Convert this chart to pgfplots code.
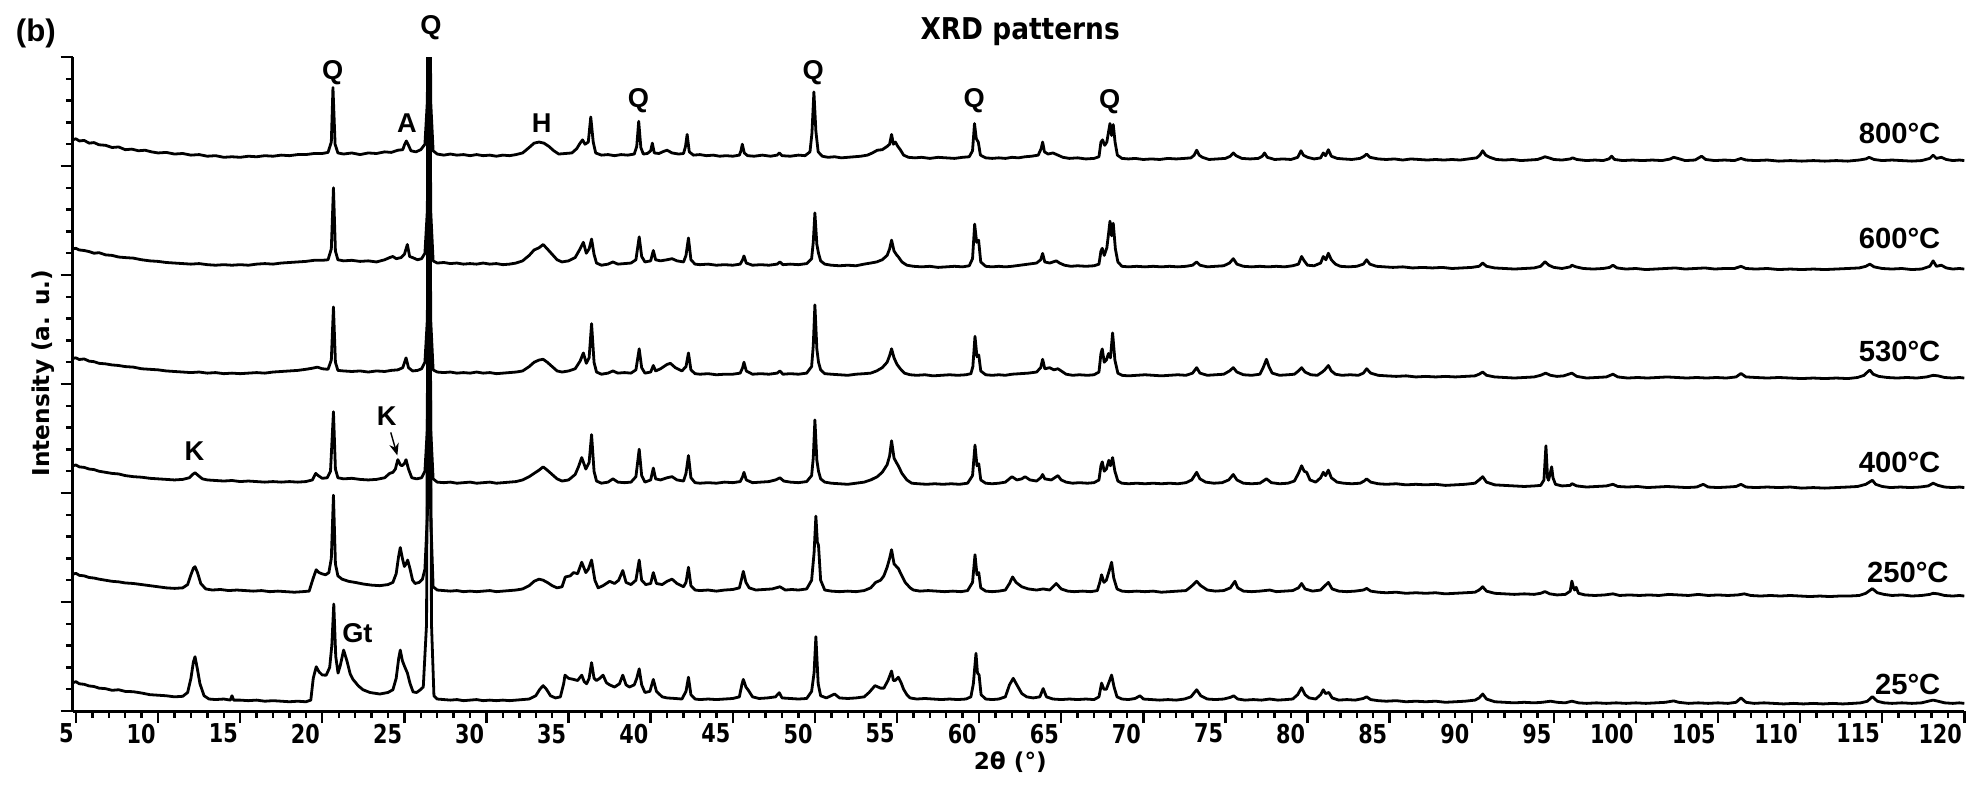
\documentclass[border=0pt]{standalone}
\usepackage{fontspec}
\setmainfont{Liberation Sans}
\newfontfamily\dvs{DejaVu Sans}
\usepackage{graphicx}
\usepackage{pgfplots}
\usepackage{pgfplotstable}
\usetikzlibrary{arrows.meta}
\pgfplotsset{compat=1.18}

% local intensities of each pattern (the stacking offset is added when plotting)
\pgfplotstableread{
x I
4.8 24
5.0 25
5.2 23
5.5 23.5
5.8 21
6.1 21.5
6.4 19.5
6.8 19
7.2 17
7.6 17.5
8.0 15
8.4 15.5
8.8 14
9.2 14.5
9.6 13
10.0 12
10.5 12.5
11.0 11
11.5 11.5
12.0 10
12.5 10.5
13.0 9
13.5 9.5
14.0 8
14.5 8.5
15.0 8
15.5 9
16.0 8.5
16.5 9.5
17.0 9
17.5 10
18.0 9.5
18.5 10.5
19.0 10.5
19.5 11.5
20.0 11.5
20.35 12.5
20.55 22
20.65 72
20.78 20
20.95 12
21.3 11
21.8 12
22.3 10.5
22.8 12
23.3 11.5
23.8 13
24.2 12.5
24.6 14.5
24.9 15
25.02 20
25.12 23
25.25 19
25.4 14
25.7 13
26.0 15
26.25 20
26.4 60
26.5 700
26.6 60
26.75 14
27.0 11
27.4 10
27.8 11
28.2 10
28.6 10.5
29.0 9.5
29.4 10.5
29.8 9.5
30.2 10
30.6 9
31.0 10
31.4 9.5
31.8 10.5
32.2 12
32.6 17
32.9 21
33.2 22
33.5 21
33.8 18
34.1 14
34.4 11
34.8 11.5
35.2 12
35.5 16
35.7 21
35.85 24
36.0 20
36.2 22
36.35 45
36.5 22
36.65 12
37.0 10
37.4 10.5
37.8 9.5
38.2 10.5
38.6 10
39.0 11
39.15 18
39.27 41
39.4 17
39.55 11
39.8 11.5
40.0 14
40.1 21
40.22 12
40.5 11.5
40.8 13.5
41.0 14.5
41.3 12
41.7 11
42.0 11.5
42.12 18
42.22 29
42.35 13
42.6 10
43.0 10.5
43.4 9.5
43.8 10
44.2 9
44.6 9.5
45.0 9
45.4 10
45.5 14
45.58 20
45.7 12
45.9 9.5
46.3 9
46.8 10
47.3 9
47.7 10
47.83 12
48.0 9.5
48.5 9
49.0 10
49.4 9.5
49.7 13
49.82 30
49.94 68
50.06 32
50.2 13
50.45 9
50.8 8
51.2 8.5
51.6 7.5
52.0 8
52.4 8.5
52.8 9
53.2 10
53.5 12
53.8 14.5
54.1 15
54.4 18
54.55 20
54.67 29
54.78 20
54.9 22
55.05 18
55.2 15
55.4 10
55.7 8
56.1 7.5
56.5 8
57.0 7
57.5 8
58.0 7.5
58.5 7
59.0 8
59.4 8.5
59.6 14
59.72 39
59.83 25
59.95 22
60.08 10
60.4 7.5
60.8 7
61.2 7.5
61.6 7
62.0 8
62.4 7.5
62.8 8.5
63.2 9
63.6 10
63.78 16
63.87 22
63.98 13
64.2 11
64.5 12
64.8 10
65.1 8
65.5 7
66.0 7.5
66.5 6.5
67.0 7
67.3 8.5
67.42 22
67.52 24
67.65 19
67.78 22
67.88 31
67.97 39
68.07 28
68.17 38
68.28 22
68.42 10
68.7 7
69.1 6.5
69.5 7
70.0 6
70.5 6.5
71.0 6
71.5 7
72.0 6.5
72.5 7
72.9 7.5
73.1 10
73.25 14.5
73.4 10
73.6 8
74.0 6
74.5 6.5
75.0 7
75.3 9
75.48 12
75.65 9.5
76.0 7
76.5 6.5
77.0 7
77.25 9
77.38 12
77.55 8
78.0 6
78.5 6.5
79.0 6
79.4 8
79.6 14
79.75 10
80.0 8
80.4 6.5
80.8 7.5
80.96 12
81.1 9.5
81.27 15
81.45 9
81.8 7
82.2 6.5
82.7 6
83.2 7
83.45 9
83.6 11
83.8 8
84.3 6.5
84.8 6
85.3 6.5
85.8 5.5
86.3 6.5
86.8 6
87.3 5.5
87.8 6
88.3 5.5
88.8 6
89.3 5.5
89.8 6.5
90.3 7.5
90.5 10
90.67 14
90.85 10
91.1 8
91.5 6
92.0 5.5
92.5 6
93.0 5
93.5 5.5
94.0 6
94.3 7.5
94.46 8.5
94.7 7.5
95.0 6
95.5 5.5
96.0 6.5
96.15 7.5
96.4 6
97.0 5
97.5 5.5
98.0 5
98.35 6.5
98.52 9
98.7 6
99.2 5
99.8 5.5
100.4 5
101.0 5.5
101.6 5
102.1 6.5
102.3 8
102.55 7
103.0 5
103.6 5.5
104.0 9
104.25 6
104.8 5
105.4 5.5
106.0 5
106.4 7
106.7 5.5
107.3 5
108.0 5.5
108.7 4.5
109.4 5
110.1 4.5
110.8 5
111.5 4.5
112.2 5
112.9 4.5
113.6 5.5
114.0 6.5
114.2 8
114.5 6
115.0 5
115.6 5.5
116.2 5
116.8 4.5
117.4 5
117.9 7
118.1 10
118.3 7
118.6 8
118.9 6
119.3 5
119.7 5.5
120.0 5
}\patEight

\pgfplotstableread{
x I
4.8 24
5.0 24.5
5.2 23
5.5 22.5
5.8 21.5
6.1 20
6.4 20.5
6.8 18.5
7.2 18
7.6 16.5
8.0 16
8.5 15.5
9.0 14
9.5 13
10.0 12.5
10.5 11.5
11.0 11
11.5 10.5
12.0 10
12.5 10.5
13.0 9.5
13.5 9
14.0 9.5
14.5 9
15.0 9.5
15.5 9
16.0 10
16.5 10.5
17.0 10
17.5 11
18.0 11.5
18.5 12
19.0 12.5
19.5 13.5
20.0 13.5
20.35 14
20.55 24
20.68 80
20.8 22
20.95 14
21.3 13
21.8 13.5
22.3 12.5
22.8 13
23.3 12
23.8 14
24.1 16
24.3 17
24.5 15
24.8 16
25.0 19
25.18 28
25.32 17
25.5 16
25.8 14
26.05 15
26.25 20
26.4 60
26.5 700
26.6 60
26.75 13
27.0 11
27.4 11.5
27.8 10.5
28.2 11
28.6 10
29.0 10.5
29.4 10
29.8 11
30.2 10
30.6 10.5
31.0 9.5
31.4 10
31.8 11
32.2 13
32.6 18
32.9 23
33.2 25
33.45 28
33.7 24
34.0 19
34.3 14
34.6 12
35.0 13
35.4 16
35.7 24
35.9 30
36.08 20
36.25 24
36.4 33
36.55 19
36.7 11
37.0 9
37.4 10
37.7 12
38.0 10
38.4 10.5
38.8 11
39.1 14
39.3 35
39.45 17
39.65 12
40.0 13
40.16 22.5
40.3 14
40.6 13
41.0 14
41.3 15
41.6 13
42.0 12
42.15 18
42.3 34
42.45 14
42.7 10
43.0 9.5
43.5 10
44.0 9
44.5 9.5
45.0 9
45.45 10
45.6 14
45.68 17.5
45.82 11
46.2 9
46.7 9.5
47.2 9
47.7 10
47.87 12
48.05 9.5
48.5 10
49.0 9.5
49.5 10.5
49.8 15
49.9 30
50.0 57
50.12 28
50.22 20
50.35 13
50.6 10
51.0 9
51.5 8.5
52.0 9
52.5 8.5
53.0 10
53.4 11
53.76 12
54.1 14
54.4 18
54.55 24
54.67 32
54.82 22
55.0 18
55.08 16.7
55.3 12
55.6 9
56.0 8
56.5 7.5
57.0 8
57.5 7
58.0 7.5
58.5 8
59.0 7.5
59.4 8.5
59.6 15
59.73 46.7
59.85 30
59.97 32
60.1 12
60.4 8
60.8 7.5
61.2 8
61.6 7.5
62.0 8
62.5 9
63.0 10
63.5 11
63.75 14
63.87 19.8
64.0 12
64.3 11
64.5 12
64.7 13
64.9 11
65.2 9
65.6 8
66.0 8.5
66.5 8
67.0 8.5
67.3 10
67.42 22
67.5 24.5
67.62 18
67.78 25
67.9 40
67.97 49.4
68.07 36
68.17 47.5
68.3 24
68.45 12
68.7 8
69.1 7.5
69.6 8
70.1 7.5
70.6 8
71.1 7.5
71.6 8
72.1 7.5
72.6 8
73.0 9
73.25 12
73.45 9
73.9 7.5
74.4 8
74.9 8.5
75.25 11
75.48 15
75.7 10
76.1 8
76.6 7.5
77.1 8
77.6 7.5
78.1 8
78.6 7.5
79.1 8.5
79.45 10
79.64 17
79.8 13
80.0 9
80.4 8.5
80.8 11
80.96 17
81.12 14
81.27 20
81.45 14
81.7 10
82.0 8
82.5 7.5
83.0 8
83.4 10
83.6 14
83.8 10
84.2 8
84.7 7.5
85.2 7
85.8 7.5
86.4 6.5
87.0 7
87.6 6.5
88.2 7
88.8 6
89.4 6.5
90.0 7
90.45 8
90.67 11
90.9 8
91.4 6.5
92.0 6
92.6 5.5
93.2 6
93.8 6.5
94.2 8
94.46 12.2
94.7 9
95.0 7
95.5 6
96.0 7.5
96.1 9
96.35 7.5
96.8 6
97.4 5.5
98.0 6
98.4 7
98.6 9
98.85 6.5
99.4 5.5
100.0 6
100.6 5
101.2 5.5
101.8 6
102.4 6.5
103.0 5.5
103.6 6
104.2 6.5
104.8 5.5
105.4 6
106.0 6
106.4 8
106.7 6
107.3 5.5
108.0 6
108.7 5
109.4 5.5
110.1 5
110.8 5.5
111.5 5
112.2 5.5
112.9 6
113.6 6.5
114.0 8
114.25 10
114.5 7.5
115.0 6
115.6 5.5
116.2 6
116.8 5
117.4 5.5
117.9 8
118.1 13
118.3 8
118.6 9
118.9 6.5
119.3 5.5
119.7 6
120.0 5.5
}\patSix

\pgfplotstableread{
x I
4.8 23.5
5.0 24
5.2 22.5
5.5 23
5.8 21
6.1 20.5
6.4 19
6.8 18.5
7.2 17.5
7.6 17
8.0 16
8.5 15.5
9.0 14
9.5 13.5
10.0 13
10.5 12
11.0 11.5
11.5 11
12.0 10.5
12.5 11
13.0 10
13.5 10.5
14.0 9.5
14.5 10
15.0 9.5
15.5 10
16.0 10.5
16.5 10
17.0 11
17.5 11.5
18.0 12
18.5 12.5
19.0 13.5
19.4 14.5
19.7 15.5
20.0 14
20.35 13.5
20.55 22
20.68 70.7
20.8 20
20.95 12.5
21.3 12
21.8 11.5
22.3 12
22.8 11
23.3 12
23.8 11.5
24.2 12.5
24.6 13
24.9 15
25.1 24
25.25 15
25.5 12
25.8 12.5
26.05 14
26.25 20
26.4 60
26.5 700
26.6 60
26.75 13
27.0 11
27.4 10.5
27.8 11
28.2 10
28.6 10.5
29.0 10
29.4 11
29.8 10
30.2 10.5
30.6 9.5
31.0 10
31.4 10.5
31.8 11
32.2 12
32.6 16
32.9 20
33.2 22
33.45 22.7
33.7 20
34.0 16
34.3 12
34.6 11
35.0 12
35.4 14
35.7 21
35.9 28.5
36.08 19
36.25 24
36.4 55.4
36.55 20
36.7 11
37.0 9
37.4 10
37.7 12
38.0 10
38.4 10.5
38.8 10
39.1 13
39.3 32.3
39.45 15
39.65 10
40.0 11
40.16 17
40.3 12
40.6 14
41.0 18
41.2 19
41.5 15
41.9 12
42.15 16
42.3 28.5
42.45 13
42.7 9.5
43.0 9
43.5 9.5
44.0 8.5
44.5 9
45.0 9
45.45 10
45.6 15
45.68 20
45.82 12
46.2 9
46.7 9.5
47.2 9
47.7 10
47.87 12
48.05 9
48.5 9.5
49.0 9
49.5 10
49.8 16
49.9 35
50.0 72.6
50.12 32
50.22 20
50.35 13
50.6 9.5
51.0 9
51.5 8.5
52.0 8
52.5 9
53.0 9.5
53.4 10
53.76 12
54.1 15
54.4 20
54.55 26
54.67 32.3
54.82 24
55.0 18
55.2 14
55.45 10
55.8 8.5
56.2 8
56.7 8.5
57.2 7.5
57.7 8
58.2 8.5
58.7 8
59.2 8.5
59.5 9.5
59.62 16
59.75 43.8
59.87 25
59.98 26.6
60.1 12
60.4 8.5
60.8 8
61.2 8.5
61.6 8
62.0 9
62.5 9.5
63.0 10
63.5 11
63.75 15
63.87 22.7
64.0 14
64.3 15
64.55 13
64.8 14
65.0 12
65.3 9
65.7 8
66.1 8.5
66.6 8
67.0 8.5
67.3 11
67.42 28
67.5 32.2
67.62 20
67.75 22
67.88 28
68.0 24
68.13 46.9
68.27 22
68.45 10
68.7 8
69.1 7.5
69.6 8
70.1 8.5
70.6 8
71.1 7.5
71.6 8
72.1 8.5
72.6 8
73.0 10
73.25 15
73.45 10
73.9 8
74.4 8.5
74.9 9
75.25 12
75.48 15
75.7 11
76.1 8.5
76.6 8
77.1 9
77.3 15
77.5 22.7
77.65 16
77.85 10
78.3 8
78.8 8.5
79.2 9
79.45 12
79.64 15
79.85 11
80.2 8.5
80.6 8
80.9 11
81.05 13
81.27 17
81.45 12
81.7 9
82.1 8
82.6 8.5
83.1 8
83.4 10
83.6 14
83.85 10
84.3 8
84.8 7.5
85.4 7
86.0 7.5
86.6 6.5
87.2 7
87.8 6.5
88.4 7
89.0 6.5
89.6 7
90.2 7.5
90.45 9
90.67 11
90.9 8
91.4 6.5
92.0 6
92.6 5.5
93.2 6
93.8 6.5
94.2 8
94.5 10
94.8 8
95.2 7
95.6 7.5
96.1 10
96.4 7
97.0 5.5
97.6 6
98.2 6.5
98.6 9
98.9 6.5
99.5 5.5
100.1 6
100.7 5.5
101.3 6
101.9 6.5
102.5 6
103.1 5.5
103.7 6
104.3 5.5
104.9 6
105.5 5.5
106.1 6.5
106.4 9.7
106.7 6.5
107.3 6
108.0 5.5
108.7 6
109.4 5.5
110.1 5
110.8 5.5
111.5 5
112.2 5.5
112.9 5
113.5 6
113.9 8
114.1 11
114.25 12.8
114.45 9
114.8 7
115.3 6
115.9 5.5
116.5 6
117.1 5.5
117.7 6.5
118.1 8
118.4 7.5
118.8 6
119.3 5.5
119.7 6
120.0 5.5
}\patFiveThirty

\pgfplotstableread{
x I
4.8 25
5.0 25.7
5.2 24
5.5 23.5
5.8 22
6.1 21.5
6.4 20
6.8 19
7.2 18
7.6 17.5
8.0 16
8.5 15
9.0 14.5
9.5 13.5
10.0 13
10.5 12.5
11.0 12
11.5 12.5
11.9 14
12.1 17
12.25 18.6
12.45 16
12.7 13
13.0 12
13.5 11.5
14.0 11
14.5 11.5
15.0 10.5
15.5 11
16.0 10.5
16.5 10
17.0 10.5
17.5 10
18.0 10.5
18.5 10
19.0 10.5
19.4 12
19.6 18
19.75 16
20.0 13.5
20.3 14
20.5 20
20.68 74.6
20.8 22
20.95 14
21.3 13
21.8 13.5
22.3 12.5
22.8 12
23.3 12.5
23.8 14
24.1 18
24.3 19
24.45 22
24.6 30.6
24.75 26
24.85 25
25.0 27
25.1 30.6
25.25 22
25.45 14
25.75 13
26.05 14
26.25 20
26.4 60
26.5 700
26.6 60
26.75 13
27.0 10
27.4 9.5
27.8 10
28.2 9
28.6 9.5
29.0 10
29.4 9
29.8 9.5
30.2 10
30.6 9
31.0 9.5
31.4 10
31.8 10.5
32.2 12
32.6 15
32.9 18
33.2 21
33.45 24
33.7 21
34.0 17
34.3 13
34.6 11
35.0 12
35.4 17
35.6 24
35.8 32.5
36.05 22
36.25 28
36.4 53.6
36.55 20
36.7 11
37.0 9
37.4 10
37.7 13
38.0 10
38.4 9.5
38.8 10
39.1 15
39.3 40.2
39.45 16
39.65 10
40.0 12
40.16 22.9
40.3 13
40.6 12
41.0 14
41.3 15
41.6 12
42.0 11
42.15 18
42.3 34.4
42.45 14
42.7 9.5
43.0 9
43.5 9.5
44.0 9
44.5 10
45.0 9.5
45.45 10.5
45.6 15
45.68 19
45.82 12
46.2 9.5
46.7 10
47.2 10.5
47.6 12
47.87 14
48.1 11
48.5 10
49.0 9.5
49.5 10.5
49.8 16
49.9 32
50.0 67
50.12 30
50.22 20
50.35 13
50.6 10
51.0 9
51.5 8.5
52.0 8
52.5 9
53.0 10
53.4 12
53.8 15
54.1 19
54.4 26
54.55 34
54.67 47.9
54.82 32
55.0 27
55.08 25
55.3 18
55.6 12
55.9 9
56.3 8.5
56.8 8
57.3 8.5
57.8 8
58.3 8.5
58.8 8
59.3 9
59.6 16
59.75 44
59.87 25
59.98 26.8
60.1 12
60.4 9
60.8 8.5
61.2 9
61.6 10
62.0 15
62.3 12
62.6 13
62.8 15
63.1 12
63.5 11
63.75 14
63.87 17
64.0 13
64.4 12
64.8 16
65.0 12
65.3 10
65.7 9
66.1 9.5
66.6 9
67.0 9.5
67.3 12
67.42 25
67.5 28.6
67.62 20
67.75 22
67.9 30
68.0 25
68.13 32.5
68.27 20
68.45 11
68.7 9
69.1 8.5
69.6 9
70.1 8.5
70.6 9
71.1 8.5
71.6 9
72.1 8.5
72.6 9.5
72.95 12
73.25 19
73.45 13
73.8 10
74.3 9
74.8 9.5
75.2 12
75.48 17
75.7 12
76.1 9
76.6 8.5
77.1 9
77.5 13
77.8 9.5
78.3 8.5
78.8 9
79.2 11
79.45 18
79.64 25
79.8 20
79.95 19
80.15 12
80.5 10
80.8 14
80.96 19
81.1 16
81.27 21
81.45 14
81.8 10
82.2 9
82.7 8.5
83.2 9
83.45 11
83.6 13
83.85 10
84.3 8.5
84.8 8
85.4 8.5
86.0 7.5
86.6 8
87.2 7.5
87.8 8
88.4 7
89.0 7.5
89.6 8
90.2 9
90.45 12
90.67 15
90.9 10
91.4 7.5
92.0 7
92.6 6.5
93.2 6
93.8 6.5
94.2 7
94.4 12
94.52 43.3
94.62 14
94.68 11.7
94.78 18
94.87 24
94.95 14
95.1 8
95.5 6.5
96.0 7
96.1 8.6
96.4 6.5
97.0 5.5
97.6 6
98.2 6.5
98.6 8
98.9 6
99.5 5.5
100.1 6
100.7 5
101.3 5.5
101.9 6
102.5 5.5
103.1 5
103.7 5.5
104.1 8
104.4 5.5
105.0 5
105.6 5.5
106.1 6
106.4 8
106.7 5.5
107.3 5
108.0 5.5
108.7 5
109.4 5.5
110.1 4.5
110.8 5
111.5 4.5
112.2 5
112.9 5.5
113.5 6
114.0 8
114.4 11.7
114.6 8
115.0 6
115.5 5
116.1 5.5
116.7 5
117.3 5.5
117.8 6.5
118.1 9
118.4 7
118.8 5.5
119.3 5
119.7 5.5
120.0 5
}\patFour

\pgfplotstableread{
x I
4.8 25.5
5.0 26.3
5.2 24.5
5.5 24
5.8 22.5
6.1 22
6.4 21
6.8 20
7.2 19
7.6 18.5
8.0 17.5
8.5 17
9.0 16
9.5 15
10.0 14
10.5 13
11.0 12.5
11.5 13
11.8 16
12.0 25
12.15 31
12.25 32.4
12.4 27
12.6 17
12.9 12
13.3 11
13.8 11.5
14.3 10.5
14.8 11
15.3 10.5
15.8 10
16.3 10.5
16.8 9.5
17.3 10
17.8 9.5
18.3 9
18.8 9.5
19.2 10
19.45 22
19.63 29.6
19.8 27
20.0 25.8
20.2 25
20.4 27
20.55 40
20.68 98
20.8 35
20.95 24
21.2 21
21.6 19
22.0 18
22.5 16.5
23.0 15.5
23.5 15
24.0 16
24.3 18
24.5 26
24.65 42
24.75 50
24.88 40
25.0 32.6
25.1 35
25.2 38.5
25.35 30
25.5 20
25.65 17
25.9 18
26.1 21
26.25 30
26.4 80
26.5 700
26.6 80
26.75 14
27.0 11
27.4 10.5
27.8 10
28.2 10.5
28.6 9.5
29.0 10
29.4 9.5
29.8 10
30.2 10.5
30.6 9.5
31.0 10
31.4 10.5
31.8 11
32.2 12
32.6 15
32.9 19
33.2 21
33.45 20
33.7 18
34.0 15
34.3 13
34.6 14
34.8 23
35.1 24
35.3 27
35.55 26
35.8 36.5
36.05 27
36.2 30
36.4 38.5
36.6 20
36.8 13
37.1 15
37.5 19
37.8 17
38.05 20
38.3 28.9
38.5 18
38.8 16
39.1 20
39.3 38.5
39.45 20
39.7 16
40.0 17
40.16 27
40.35 17
40.7 16
41.0 19
41.3 21
41.6 17
42.0 14
42.15 18
42.3 31.9
42.45 15
42.7 11
43.0 10.5
43.5 11
44.0 10
44.5 11
45.0 11.5
45.4 13
45.55 22
45.64 28.1
45.8 18
46.0 13
46.4 11
46.9 11.5
47.4 12
47.87 14
48.2 11
48.6 11.5
49.0 11
49.5 12
49.8 20
49.95 45
50.06 78.8
50.15 55
50.22 52
50.35 20
50.6 11
51.0 10
51.5 9.5
52.0 10
52.5 9.5
53.0 10.5
53.4 13
53.7 18
54.0 20
54.2 24
54.4 32
54.55 40
54.67 48
54.82 35
55.0 32
55.08 30.8
55.3 24
55.5 18
55.8 13
56.0 11
56.4 10
56.9 10.5
57.4 10
57.9 9.5
58.4 10
58.9 9.5
59.3 10.5
59.6 18
59.75 43.4
59.87 25
59.98 27
60.1 13
60.4 10
60.8 9.5
61.2 10
61.6 11
61.85 17
62.04 23
62.25 18
62.6 14
63.0 12
63.5 11
63.9 12
64.3 11
64.7 17
65.0 12
65.4 10
65.8 9.5
66.3 10
66.8 9.5
67.2 10.5
67.35 18
67.46 25
67.6 18
67.75 20
67.95 30
68.07 36.5
68.2 22
68.4 12
68.7 10
69.1 9.5
69.6 10
70.1 9.5
70.6 10
71.1 9
71.6 9.5
72.1 10
72.6 10.5
72.9 14
73.25 19
73.5 15
73.9 11
74.4 10
74.9 10.5
75.3 13
75.58 19
75.75 13
76.1 10
76.6 9.5
77.1 10
77.7 11
78.1 9.5
78.6 10
79.1 10.5
79.45 13
79.64 17
79.85 12
80.3 10
80.8 11
81.0 14
81.27 18
81.5 12
81.9 10
82.4 9.5
82.9 10
83.4 11
83.6 12.5
83.85 10
84.3 9
84.8 8.5
85.4 9
86.0 8
86.6 8.5
87.2 8
87.8 8.5
88.4 7.5
89.0 8
89.6 8.5
90.2 9
90.45 11
90.67 14
90.9 10
91.4 8
92.0 7.5
92.6 7
93.2 7.5
93.8 7
94.2 8
94.46 9.6
94.75 7.5
95.2 6.5
95.7 7
96.0 10
96.1 19.2
96.2 13
96.27 11
96.36 13.5
96.5 8
96.9 6.5
97.5 6
98.1 6.5
98.6 7.5
99.0 6
99.6 6.5
100.2 6
100.8 6.5
101.4 6
102.0 7
102.6 6.5
103.2 6
103.8 7
104.4 6
105.0 6.5
105.6 6
106.2 6.5
106.6 7.5
107.0 6
107.6 5.5
108.2 6
108.8 5.5
109.4 6
110.0 5.5
110.6 5
111.2 5.5
111.8 5
112.4 5.5
113.0 5.5
113.6 6
114.0 8
114.4 12.3
114.7 8.5
115.1 7
115.6 6
116.2 6.5
116.8 5.5
117.4 6
117.9 7
118.1 8
118.4 7.5
118.8 6
119.3 5.5
119.7 6
120.0 5.5
}\patTwoFifty

\pgfplotstableread{
x I
4.8 26
5.0 26.9
5.2 25
5.5 24.5
5.8 23
6.1 22.5
6.4 21
6.8 20.5
7.2 19
7.6 19.5
8.0 18
8.5 17.7
9.0 16.5
9.5 15
10.0 14.5
10.5 14
11.0 13
11.5 13.5
11.8 17
12.0 30
12.15 45
12.25 49.8
12.4 38
12.55 25
12.8 14
13.1 11
13.5 10.5
14.0 11
14.4 10
14.5 14
14.6 10
15.0 10
15.5 9.5
16.0 10
16.5 9
17.0 9.5
17.5 9
18.0 8.5
18.5 9
19.0 8.5
19.3 10
19.45 30
19.63 40.6
19.8 36
20.0 33
20.24 32.9
20.45 40
20.58 60
20.7 98.2
20.82 50
20.96 34.8
21.1 42
21.3 55.9
21.5 46
21.7 34
21.87 29
22.2 23
22.48 19.5
22.9 17
23.5 15.6
24.0 17
24.3 19.5
24.5 30
24.65 48
24.75 55.9
24.88 46
25.02 40.6
25.18 35
25.35 25
25.53 17.5
25.75 17
25.93 19
26.15 22
26.35 80
26.5 700
26.65 80
26.8 14
27.0 11
27.4 10.5
27.8 10
28.2 10.5
28.6 9.5
29.0 10
29.4 10.5
29.8 9.5
30.2 10
30.6 9.5
31.0 10
31.4 9.5
31.8 10
32.2 10.5
32.6 11
33.0 14
33.25 20
33.45 23.3
33.65 20
33.9 14
34.2 12
34.5 13
34.7 25
34.78 32.9
35.0 30
35.3 29
35.55 28
35.8 32.9
35.95 27
36.1 25
36.25 30
36.4 44.4
36.55 30
36.7 28
36.9 30
37.1 32.9
37.3 26
37.5 24
37.8 22
38.1 25
38.3 32.9
38.5 24
38.7 22
39.0 24
39.15 30
39.3 38.7
39.45 24
39.65 17
39.95 18
40.16 29
40.35 18
40.7 13
41.0 12
41.5 11.5
41.9 11
42.15 18
42.3 31
42.45 15
42.7 11
43.0 10.5
43.5 11
44.0 10.5
44.5 11
45.0 11.5
45.4 13
45.55 24
45.64 29
45.8 22
45.95 19
46.2 13
46.6 11.5
47.1 12
47.6 13
47.83 16.8
48.0 12
48.5 11.5
49.0 11
49.5 11.5
49.8 18
49.95 35
50.06 68.2
50.2 25
50.35 14
50.7 12
51.2 15.6
51.5 12
52.0 11.5
52.5 12
53.0 13
53.3 17
53.66 23.3
54.0 21
54.2 21
54.45 28
54.67 36.7
54.78 28
54.88 28
55.08 31
55.25 26
55.4 20
55.6 15
55.8 12
56.2 11
56.7 11.5
57.2 11
57.7 10.5
58.2 11
58.7 10.5
59.2 11
59.5 13
59.65 25
59.81 52.9
59.9 35
60.0 33
60.12 15
60.4 11
60.8 10.5
61.2 11
61.6 13
61.85 24
62.08 30
62.3 24
62.6 16
62.9 13
63.3 12
63.7 13
63.9 20.6
64.1 13
64.5 11
65.0 10.5
65.5 11
66.0 10.5
66.5 11
67.0 10.5
67.3 13
67.46 25.6
67.6 20
67.75 20
67.95 28
68.07 33
68.22 22
68.4 13
68.7 11
69.1 10.5
69.5 11.5
69.8 14
70.0 11
70.5 10.5
71.0 10
71.5 10.5
72.0 10
72.5 11
72.9 13
73.25 19.5
73.5 14
73.9 11
74.4 10.5
74.9 11
75.3 12.5
75.5 14
75.75 11
76.2 10
76.7 10.5
77.2 10
77.7 11
78.2 10
78.7 10.5
79.1 11
79.4 15
79.64 21.4
79.85 15
80.1 12
80.5 11
80.8 15
80.96 19.5
81.1 16
81.3 17
81.5 12
81.9 10
82.4 10.5
82.9 10
83.4 11.5
83.6 13
83.85 10.5
84.3 9.5
84.8 9
85.4 9.5
86.0 8.5
86.6 9
87.2 8.5
87.8 9
88.4 8
89.0 8.5
89.6 9
90.2 10
90.45 12
90.67 15.6
90.9 11
91.4 8.5
92.0 8
92.6 7.5
93.2 8
93.8 7.5
94.3 8
94.8 9
95.2 8
95.7 7.5
96.1 9
96.5 7.5
97.0 7
97.6 7.5
98.2 7
98.8 7.5
99.4 7
100.0 7.5
100.6 7
101.2 7.5
101.8 8
102.3 9.3
102.6 8
103.2 7
103.8 7.5
104.4 7
105.0 7.5
105.6 7
106.1 8
106.4 12
106.7 8
107.2 7
107.8 7.5
108.4 7
109.0 6.5
109.6 7
110.2 6.5
110.8 7
111.4 6.5
112.0 7
112.6 6.5
113.2 7
113.7 7.5
114.1 9
114.4 13.2
114.7 9
115.1 7.5
115.6 7
116.2 7.5
116.8 7
117.4 7.5
117.8 9
118.1 10
118.4 9
118.8 7.5
119.3 7
119.7 7.5
120.0 7
}\patRoom

\newcommand{\tl}[1]{\scalebox{0.8}[1]{#1}}

\begin{document}
\begin{tikzpicture}
\begin{axis}[
  scale only axis,
  width=472.9pt, height=163.5pt,
  xmin=4.8, xmax=120, ymin=0, ymax=600,
  axis lines*=left,
  axis line style={line width=0.75pt},
  clip mode=individual,
  tick align=outside,
  major tick length=3pt, minor tick length=1.7pt,
  tick style={line width=0.6pt, black},
  xtick={5,10,...,120},
  xticklabels={\tl{5},\tl{10},\tl{15},\tl{20},\tl{25},\tl{30},\tl{35},\tl{40},\tl{45},\tl{50},\tl{55},\tl{60},\tl{65},\tl{70},\tl{75},\tl{80},\tl{85},\tl{90},\tl{95},\tl{100},\tl{105},\tl{110},\tl{115},\tl{120}},
  xticklabel style={anchor=north east, inner sep=0pt, xshift=-0.4pt,
    font=\dvs\bfseries\fontsize{6.5}{7}\selectfont},
  minor x tick num=4,
  ytick={0,100,...,600},
  yticklabels={},
  minor y tick num=4,
  xrd/.style={black, no markers, line width=0.7pt, line join=round},
]
\coordinate (O) at (axis cs:4.8,0);

\addplot[xrd] table[x=x, y expr=\thisrow{I}+500] {\patEight};
\addplot[xrd] table[x=x, y expr=\thisrow{I}+400] {\patSix};
\addplot[xrd] table[x=x, y expr=\thisrow{I}+300] {\patFiveThirty};
\addplot[xrd] table[x=x, y expr=\thisrow{I}+200] {\patFour};
\addplot[xrd] table[x=x, y expr=\thisrow{I}+100] {\patTwoFifty};
\addplot[xrd] table[x=x, y expr=\thisrow{I}] {\patRoom};

% sample temperatures
\begin{scope}[font=\bfseries\fontsize{7.3}{8}\selectfont]
\node[anchor=east] at (axis cs:119.4,530) {800°C};
\node[anchor=east] at (axis cs:119.4,434) {600°C};
\node[anchor=east] at (axis cs:119.4,330) {530°C};
\node[anchor=east] at (axis cs:119.4,228) {400°C};
\node[anchor=east] at (axis cs:119.9,127) {250°C};
\node[anchor=east] at (axis cs:119.4,24) {25°C};
\end{scope}

% phase labels
\begin{scope}[font=\bfseries\fontsize{6.8}{8}\selectfont]
\node at (axis cs:20.63,585.8) {Q};
\node at (axis cs:25.16,539.4) {A};
\node at (axis cs:26.62,627) {Q};
\node at (axis cs:33.36,539.7) {H};
\node at (axis cs:39.26,560.3) {Q};
\node at (axis cs:49.9,585.8) {Q};
\node at (axis cs:59.7,560) {Q};
\node at (axis cs:67.95,559) {Q};
\node at (axis cs:12.22,238.5) {K};
\node at (axis cs:23.92,270.2) {K};
\node at (axis cs:22.14,71.9) {Gt};
\end{scope}
\draw[-{Stealth[length=3pt,width=2.4pt]}, line width=0.35pt] (axis cs:24.17,255.6) -- (axis cs:24.57,234.5);

% titles
\node[font=\dvs\bfseries\fontsize{7.5}{9}\selectfont] at (axis cs:62.5,623) {\scalebox{0.88}[1]{XRD patterns}};
\node[font=\bfseries\fontsize{7.8}{9}\selectfont] at (axis cs:2.56,621.6) {(b)};
\node[font=\dvs\bfseries\fontsize{5.8}{7}\selectfont] at (axis cs:61.9,-46.8) {2θ (°)};
\node[rotate=90, font=\dvs\bfseries\fontsize{5.8}{7}\selectfont] at ([xshift=-7.4pt]axis cs:4.8,310) {Intensity (a. u.)};
\end{axis}
\pgfresetboundingbox
\path[use as bounding box] (O) ++(-18.175pt,-18.75pt) rectangle ++(492pt,196.5pt);
\end{tikzpicture}
\end{document}
